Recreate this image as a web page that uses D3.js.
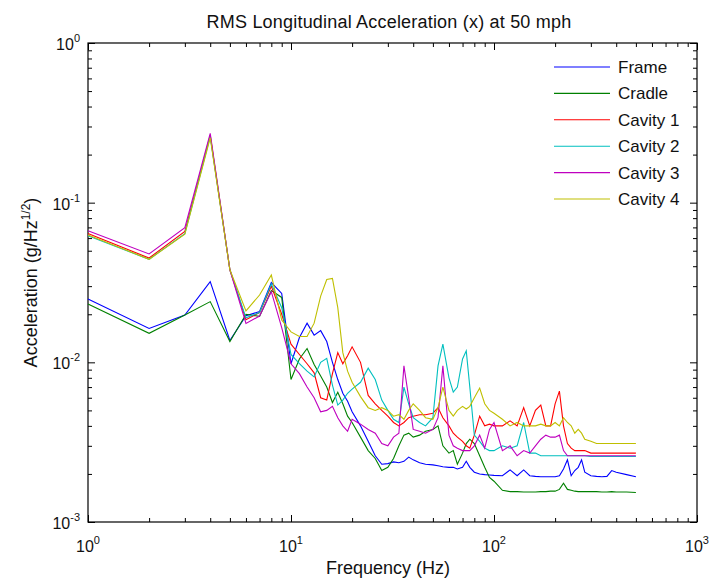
<!DOCTYPE html>
<head>
  <meta charset="utf-8">
  <script src="https://d3js.org/d3.v7.min.js"></script>
  <style>
    body { margin: 0; background: #fff; }
    svg text { font-family: "Liberation Sans", Arial, sans-serif; fill: #111; }
    .axis path { display: none; }
    .axis line { stroke: #000; }
    .series { fill: none; stroke-width: 1.1px; }
  </style>
</head>
<body>
  <svg id="chart"></svg>
  <script>

    // frequency grid (Hz)
    var freq = [1,2,3,4,5,6,7,8,9,10,11,12,13,14,15,16,17,18,19,20,
      22,24,26,28,30,32,34,36,38,40,
      43,46,50,53,56,60,63,66,70,73,76,80,85,90,95,100,
      110,120,130,140,150,160,170,180,190,200,210,220,230,240,250,260,270,280,
      300,320,340,360,380,400,450,500];

    var frame = [0.0249,0.0163,0.0198,0.032,0.0137,0.0196,0.0208,0.0316,0.027,0.0098,
      0.0143,0.0176,0.0148,0.0158,0.0135,0.0100,0.0078,0.0064,0.0057,0.0049,
      0.0040,0.0032,0.0026,0.0023,0.00232,0.00238,0.00235,0.0024,0.00255,0.00245,
      0.00235,0.0023,0.00228,0.00225,0.00222,0.0022,0.0022,0.00215,0.0022,0.0024,0.0022,0.00205,0.0020,0.00198,0.00197,0.00196,
      0.00195,0.00212,0.00195,0.00212,0.00195,0.00193,0.00192,0.00192,0.00192,0.00192,0.00195,0.00215,0.00245,0.00195,0.0021,0.0022,0.00245,0.00205,
      0.00195,0.00193,0.00192,0.00193,0.0021,0.00205,0.00198,0.00192];

    var cradle = [0.0232,0.0152,0.0198,0.024,0.0135,0.0200,0.0194,0.0282,0.0255,0.0078,
      0.0105,0.0122,0.0097,0.0082,0.0070,0.0056,0.0065,0.0055,0.0046,0.0042,
      0.0034,0.0028,0.0025,0.0021,0.0022,0.0025,0.0030,0.0035,0.0036,0.0034,
      0.0035,0.0037,0.0038,0.0040,0.0030,0.0027,0.0028,0.0023,0.0027,0.0031,0.0033,0.0031,0.0026,0.0022,0.0019,0.0018,
      0.00158,0.00155,0.00155,0.00154,0.00154,0.00154,0.00155,0.00155,0.00156,0.00156,0.0016,0.00175,0.0016,0.00158,0.00156,0.00155,0.00155,0.00155,
      0.00155,0.00155,0.00154,0.00154,0.00155,0.00154,0.00154,0.00153];

    var cavity1 = [0.064,0.045,0.066,0.265,0.038,0.0185,0.0205,0.030,0.020,0.013,
      0.0112,0.0098,0.0086,0.0060,0.0058,0.0085,0.0115,0.0098,0.0110,0.0125,
      0.0100,0.0062,0.0055,0.0050,0.0046,0.0042,0.0040,0.0042,0.0045,0.0046,
      0.0047,0.0047,0.0048,0.0052,0.0045,0.0040,0.0036,0.0034,0.0032,0.0030,0.0029,0.0035,0.0046,0.0040,0.0041,0.0040,
      0.0040,0.0043,0.0040,0.0052,0.0040,0.0050,0.0054,0.0040,0.0040,0.0055,0.0066,0.0040,0.0031,0.0029,0.0028,0.0028,0.0028,0.0028,
      0.0027,0.0027,0.0027,0.0027,0.0027,0.0027,0.0027,0.0027];

    var cavity2 = [0.062,0.0442,0.064,0.26,0.038,0.019,0.0205,0.031,0.022,0.0112,
      0.0098,0.0088,0.0081,0.0100,0.0106,0.0072,0.0054,0.0058,0.0064,0.0068,
      0.0075,0.0092,0.0078,0.0058,0.0050,0.0044,0.0042,0.0070,0.0055,0.0045,
      0.0042,0.0040,0.0045,0.0095,0.0130,0.0080,0.0065,0.0070,0.0105,0.0118,0.0070,0.0035,0.0032,0.0029,0.0028,0.0028,
      0.0030,0.0029,0.0030,0.0042,0.0027,0.0027,0.0026,0.0026,0.0026,0.0026,0.0026,0.0026,0.0026,0.0026,0.0026,0.0026,0.0026,0.0026,
      0.00257,0.00257,0.00257,0.00257,0.00257,0.00257,0.00257,0.00257];

    var cavity3 = [0.0668,0.0477,0.0698,0.272,0.038,0.0175,0.0195,0.0277,0.0165,0.0098,
      0.0085,0.0070,0.0060,0.0049,0.0050,0.0053,0.0045,0.0040,0.0037,0.0044,
      0.0041,0.0038,0.0036,0.0031,0.0030,0.0034,0.0036,0.0095,0.0060,0.0038,
      0.0037,0.0036,0.0038,0.0045,0.0095,0.0035,0.0030,0.0029,0.0028,0.0028,0.0028,0.0030,0.0035,0.0029,0.0038,0.0042,
      0.0028,0.0030,0.0026,0.0028,0.0027,0.0030,0.0033,0.0035,0.0034,0.0034,0.0035,0.0028,0.0026,0.0026,0.0026,0.0026,0.0026,0.0026,
      0.0026,0.0026,0.0026,0.0026,0.0026,0.0026,0.0026,0.0026];

    var cavity4 = [0.0628,0.0442,0.0634,0.255,0.038,0.021,0.0264,0.0352,0.0184,0.0155,
      0.0145,0.0145,0.0176,0.026,0.0330,0.0335,0.0220,0.0115,0.0088,0.0075,
      0.0061,0.0052,0.0050,0.0052,0.0050,0.0046,0.0047,0.0044,0.0050,0.0055,
      0.0050,0.0045,0.0044,0.0052,0.0070,0.0050,0.0046,0.0050,0.0053,0.0051,0.0053,0.0060,0.0069,0.0055,0.0050,0.0048,
      0.0044,0.0040,0.0042,0.0040,0.0040,0.0040,0.0041,0.0040,0.0040,0.0042,0.0040,0.0045,0.0042,0.0040,0.0036,0.0038,0.0036,0.0033,
      0.0032,0.0031,0.0031,0.0031,0.0031,0.0031,0.0031,0.0031];

    var seriesNames = ["Frame", "Cradle", "Cavity 1", "Cavity 2", "Cavity 3", "Cavity 4"];
    var seriesValues = [frame, cradle, cavity1, cavity2, cavity3, cavity4];
    var colors = ["#0000ff", "#008000", "#ff0000", "#00bfbf", "#bf00bf", "#bfbf00"];

    var xDecades = [0, 1, 2, 3];
    var yDecades = [-3, -2, -1, 0];

    var width = 710, height = 581;
    var margin = {top: 43, right: 13, bottom: 59, left: 88};

    var svg = d3.select("#chart")
        .attr("width", width)
        .attr("height", height);

    var x = d3.scaleLog()
        .domain([1, 1000])
        .range([margin.left, width - margin.right]);

    var y = d3.scaleLog()
        .domain([0.001, 1])
        .range([height - margin.bottom, margin.top]);

    var x0 = x.range()[0], x1 = x.range()[1];
    var y0 = y.range()[1], y1 = y.range()[0];

    function minors(lo, hi) {
      var out = [];
      for (var e = lo; e < hi; e++)
        for (var m = 2; m <= 9; m++) out.push(m * Math.pow(10, e));
      return out;
    }
    var xMajor = xDecades.map(function(e) { return Math.pow(10, e); });
    var yMajor = yDecades.map(function(e) { return Math.pow(10, e); });
    var xMinor = minors(0, 3);
    var yMinor = minors(-3, 0);

    function addAxis(axisFn, scale, vals, size, tx, ty) {
      svg.append("g")
          .attr("class", "axis")
          .attr("transform", "translate(" + tx + "," + ty + ")")
          .call(axisFn(scale).tickValues(vals).tickSizeInner(size).tickSizeOuter(0).tickFormat(""));
    }

    // inward ticks on all four sides
    addAxis(d3.axisBottom, x, xMajor, -7, 0, y1);
    addAxis(d3.axisBottom, x, xMinor, -4, 0, y1);
    addAxis(d3.axisTop, x, xMajor, -7, 0, y0);
    addAxis(d3.axisTop, x, xMinor, -4, 0, y0);
    addAxis(d3.axisLeft, y, yMajor, -7, x0, 0);
    addAxis(d3.axisLeft, y, yMinor, -4, x0, 0);
    addAxis(d3.axisRight, y, yMajor, -7, x1, 0);
    addAxis(d3.axisRight, y, yMinor, -4, x1, 0);

    svg.append("rect")
        .attr("x", x0)
        .attr("y", y0)
        .attr("width", x1 - x0)
        .attr("height", y1 - y0)
        .attr("fill", "none")
        .attr("stroke", "#000")
        .attr("stroke-width", 1.2);

    // tick labels 10^n
    var xl = svg.append("g").selectAll("text")
      .data(xDecades)
      .enter().append("text")
        .attr("x", function(d) { return x(Math.pow(10, d)); })
        .attr("y", y1 + 30)
        .attr("text-anchor", "middle")
        .style("font-size", "16px");
    xl.append("tspan").text("10");
    xl.append("tspan").attr("dy", -8).style("font-size", "11px").text(function(d) { return d; });

    var yl = svg.append("g").selectAll("text")
      .data(yDecades)
      .enter().append("text")
        .attr("x", x0 - 8)
        .attr("y", function(d) { return y(Math.pow(10, d)) + 7; })
        .attr("text-anchor", "end")
        .style("font-size", "16px");
    yl.append("tspan").text("10");
    yl.append("tspan").attr("dy", -8).style("font-size", "11px").text(function(d) { return d; });

    // title and axis labels
    svg.append("text")
        .attr("x", 389)
        .attr("y", 28)
        .attr("text-anchor", "middle")
        .style("font-size", "18px")
        .style("letter-spacing", "0.2px")
        .text("RMS Longitudinal Acceleration (x) at 50 mph");

    svg.append("text")
        .attr("x", 388)
        .attr("y", 574)
        .attr("text-anchor", "middle")
        .style("font-size", "18px")
        .text("Frequency (Hz)");

    var ylab = svg.append("text")
        .attr("transform", "translate(37," + (y0 + y1) / 2 + ") rotate(-90)")
        .attr("text-anchor", "middle")
        .style("font-size", "18px");
    ylab.append("tspan").text("Acceleration (g/Hz");
    ylab.append("tspan").attr("dy", -7).style("font-size", "12px").text("1/2");
    ylab.append("tspan").attr("dy", 7).text(")");

    // data lines
    var line = d3.line()
        .x(function(d, i) { return x(freq[i]); })
        .y(function(d) { return y(d); });

    svg.append("g").selectAll("path")
      .data(seriesValues)
      .enter().append("path")
        .attr("class", "series")
        .attr("stroke", function(d, i) { return colors[i]; })
        .attr("d", line);

    // legend, no box
    var legend = svg.append("g").selectAll("g")
      .data(seriesNames)
      .enter().append("g")
        .attr("transform", function(d, i) { return "translate(554," + (67 + i * 26.4) + ")"; });

    legend.append("line")
        .attr("x1", 0).attr("x2", 56)
        .attr("stroke", function(d, i) { return colors[i]; })
        .attr("stroke-width", 1.1);

    legend.append("text")
        .attr("x", 64)
        .attr("y", 6)
        .style("font-size", "17px")
        .text(function(d) { return d; });

  </script>
</body>
</html>
